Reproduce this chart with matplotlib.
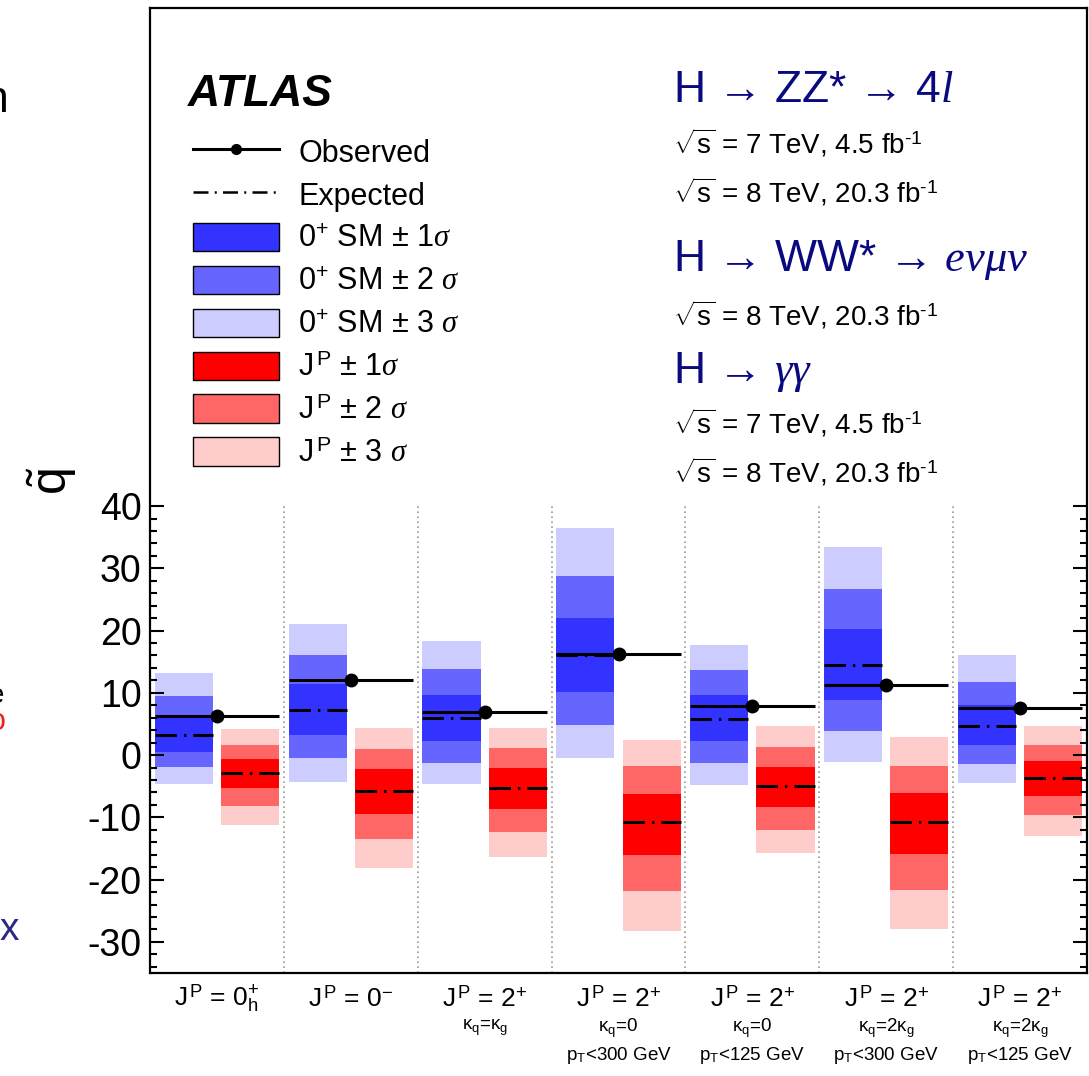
import numpy as np
import matplotlib
matplotlib.use("Agg")
import matplotlib.pyplot as plt
from matplotlib.lines import Line2D
from matplotlib.patches import Patch
from matplotlib.ticker import FixedLocator
import matplotlib.transforms as mtransforms

plt.rcParams['font.family'] = ['Liberation Sans', 'DejaVu Sans']
plt.rcParams['mathtext.fontset'] = 'custom'
plt.rcParams['mathtext.rm'] = 'Liberation Sans'
plt.rcParams['mathtext.sf'] = 'Liberation Sans'
plt.rcParams['mathtext.it'] = 'Liberation Serif:italic'
plt.rcParams['mathtext.bf'] = 'Liberation Sans:bold'
plt.rcParams['axes.unicode_minus'] = False

# hypotheses tested against 0+ SM
main_labels = [r"J$^{\,\rm P}$ = 0$^{+}_{\rm h}$", r"J$^{\,\rm P}$ = 0$^{-}$", r"J$^{\,\rm P}$ = 2$^{+}$",
               r"J$^{\,\rm P}$ = 2$^{+}$", r"J$^{\,\rm P}$ = 2$^{+}$", r"J$^{\,\rm P}$ = 2$^{+}$",
               r"J$^{\,\rm P}$ = 2$^{+}$"]
kappa_labels = ["", "", r"$\rm\kappa_q$=$\rm\kappa_g$", r"$\rm\kappa_q$=0", r"$\rm\kappa_q$=0",
                r"$\rm\kappa_q$=2$\rm\kappa_g$", r"$\rm\kappa_q$=2$\rm\kappa_g$"]
pt_labels = ["", "", "", r"p$_{\rm T}$<300 GeV", r"p$_{\rm T}$<125 GeV",
             r"p$_{\rm T}$<300 GeV", r"p$_{\rm T}$<125 GeV"]

observed = [6.3, 12.1, 6.9, 16.2, 7.9, 11.2, 7.5]

# 0+ SM expectation and bands
sm_exp = [3.3, 7.2, 5.9, 16.0, 5.8, 14.4, 4.7]
sm_1lo = [0.5, 3.2, 2.2, 10.2, 2.2, 8.9, 1.6]
sm_1hi = [6.1, 11.5, 9.7, 22.0, 9.6, 20.3, 8.1]
sm_2lo = [-1.9, -0.4, -1.3, 4.8, -1.3, 3.9, -1.5]
sm_2hi = [9.5, 16.0, 13.9, 28.8, 13.6, 26.7, 11.8]
sm_3lo = [-4.7, -4.3, -4.7, -0.4, -4.8, -1.1, -4.5]
sm_3hi = [13.2, 21.1, 18.4, 36.4, 17.7, 33.5, 16.1]

# alternative J^P expectation and bands
jp_exp = [-2.9, -5.7, -5.3, -10.8, -5.0, -10.7, -3.6]
jp_1lo = [-5.3, -9.4, -8.7, -16.1, -8.3, -15.9, -6.5]
jp_1hi = [-0.6, -2.3, -2.0, -6.3, -1.9, -6.1, -1.0]
jp_2lo = [-8.1, -13.5, -12.3, -21.9, -12.0, -21.6, -9.6]
jp_2hi = [1.7, 1.0, 1.1, -1.8, 1.3, -1.7, 1.7]
jp_3lo = [-11.2, -18.1, -16.3, -28.2, -15.8, -27.9, -13.0]
jp_3hi = [4.2, 4.4, 4.4, 2.5, 4.7, 2.9, 4.6]

blue = ["#3333ff", "#6666ff", "#ccccff"]
red = ["#ff0000", "#ff6666", "#ffcccc"]
navy = "#0a0a80"

fig = plt.figure(figsize=(10.89, 10.76), dpi=100)
ax = fig.add_axes([150/1089, 103/1076, 937/1089, 965/1076])

n = len(observed)
x0 = np.arange(n)
bw = 0.435
sm_left = x0 + 0.035
jp_left = x0 + 0.53

for lo, hi, c in [(sm_3lo, sm_3hi, blue[2]), (sm_2lo, sm_2hi, blue[1]), (sm_1lo, sm_1hi, blue[0])]:
    ax.bar(sm_left, np.array(hi) - np.array(lo), bottom=lo, width=bw, align='edge', color=c, lw=0)
for lo, hi, c in [(jp_3lo, jp_3hi, red[2]), (jp_2lo, jp_2hi, red[1]), (jp_1lo, jp_1hi, red[0])]:
    ax.bar(jp_left, np.array(hi) - np.array(lo), bottom=lo, width=bw, align='edge', color=c, lw=0)

dashdot = (0, (7, 2.3, 0.8, 2.3))
ax.hlines(sm_exp, sm_left, sm_left + bw, colors='black', lw=2.2, linestyles=[dashdot])
ax.hlines(jp_exp, jp_left, jp_left + bw, colors='black', lw=2.2, linestyles=[dashdot])
ax.hlines(observed, sm_left, jp_left + bw, colors='black', lw=2.2)
ax.plot(x0 + 0.5, observed, 'o', color='black', ms=9, zorder=5)

ax.vlines(x0[1:], -35, 40, colors='0.6', lw=1.2, linestyles=[(0, (1, 2))])

ax.set_xlim(0, n)
ax.set_ylim(-35, 120)
ax.set_xticks([])
ax.set_yticks(np.arange(-30, 41, 10))
ax.yaxis.set_minor_locator(FixedLocator(np.arange(-34, 41, 2)))
ax.tick_params(axis='y', which='both', direction='in', left=True, right=True, width=1.5, labelsize=27, pad=6)
ax.tick_params(axis='y', which='major', length=10)
ax.tick_params(axis='y', which='minor', length=5)
for s in ax.spines.values():
    s.set_linewidth(1.6)

ax.set_ylabel(r"$\tilde{\mathrm{q}}$", fontsize=36, va='center')
ax.yaxis.set_label_coords(-0.104, 0.51)

# category labels under the axis
trans = mtransforms.blended_transform_factory(ax.transData, fig.transFigure)
for i in range(n):
    ax.text(i + 0.5, 1 - 999/1076, main_labels[i], transform=trans, ha='center', va='center', fontsize=19)
    ax.text(i + 0.5, 1 - 1028/1076, kappa_labels[i], transform=trans, ha='center', va='center', fontsize=13.5)
    ax.text(i + 0.5, 1 - 1056/1076, pt_labels[i], transform=trans, ha='center', va='center', fontsize=13.5)

# legend
handles = [Line2D([], [], color='black', lw=2.2, marker='o', ms=7),
           Line2D([], [], color='black', lw=1.8, linestyle=(0, (6, 2.5, 0.8, 2.5))),
           Patch(facecolor=blue[0], edgecolor='black', lw=1),
           Patch(facecolor=blue[1], edgecolor='black', lw=1),
           Patch(facecolor=blue[2], edgecolor='black', lw=1),
           Patch(facecolor=red[0], edgecolor='black', lw=1),
           Patch(facecolor=red[1], edgecolor='black', lw=1),
           Patch(facecolor=red[2], edgecolor='black', lw=1)]
labels = ["Observed", "Expected",
          r"0$^{+}$ SM $\pm$ 1$\sigma$", r"0$^{+}$ SM $\pm$ 2 $\sigma$", r"0$^{+}$ SM $\pm$ 3 $\sigma$",
          r"J$^{\,\rm P}$ $\pm$ 1$\sigma$", r"J$^{\,\rm P}$ $\pm$ 2 $\sigma$", r"J$^{\,\rm P}$ $\pm$ 3 $\sigma$"]
ax.legend(handles, labels, loc='upper left', bbox_to_anchor=(43/937, (973-137)/965),
          frameon=False, fontsize=22, handlelength=2.8, handleheight=1.05,
          handletextpad=0.65, labelspacing=0.37, borderpad=0, borderaxespad=0)

ax.text(38/937, (973-94)/965, "ATLAS", transform=ax.transAxes, fontsize=32,
        fontweight='bold', style='italic', ha='left', va='center')

# channel info
def axy(py):
    return (973 - py) / 965

tx = (673 - 150) / 937
lumi7 = r"$\sqrt{\rm s}$ = 7 TeV, 4.5 fb$^{\text{-}1}$"
lumi8 = r"$\sqrt{\rm s}$ = 8 TeV, 20.3 fb$^{\text{-}1}$"
ax.text(tx, axy(90), "H → ZZ* → 4$l$", transform=ax.transAxes, fontsize=32, color=navy, va='center')
ax.text(tx, axy(143), lumi7, transform=ax.transAxes, fontsize=20, va='center')
ax.text(tx, axy(192), lumi8, transform=ax.transAxes, fontsize=20, va='center')
ax.text(tx, axy(260), r"H → WW* → $e\nu\mu\nu$", transform=ax.transAxes, fontsize=32, color=navy, va='center')
ax.text(tx, axy(315), lumi8, transform=ax.transAxes, fontsize=20, va='center')
ax.text(tx, axy(372), r"H → $\gamma\gamma$", transform=ax.transAxes, fontsize=32, color=navy, va='center')
ax.text(tx, axy(423), lumi7, transform=ax.transAxes, fontsize=20, va='center')
ax.text(tx, axy(472), lumi8, transform=ax.transAxes, fontsize=20, va='center')

# pieces of the neighbouring panel cut by the left edge
fig.text(9/1089, 1 - 100/1076, "n", fontsize=32, ha='right', va='center')
fig.text(4/1089, 1 - 696/1076, "e", fontsize=20, ha='right', va='center')
fig.text(6/1089, 1 - 722/1076, "o", fontsize=22, ha='right', va='center', color='#ee2222')
fig.text(19/1089, 1 - 930/1076, "x", fontsize=28, ha='right', va='center', color='#2a2a80')

fig.savefig("out.png", dpi=100)
